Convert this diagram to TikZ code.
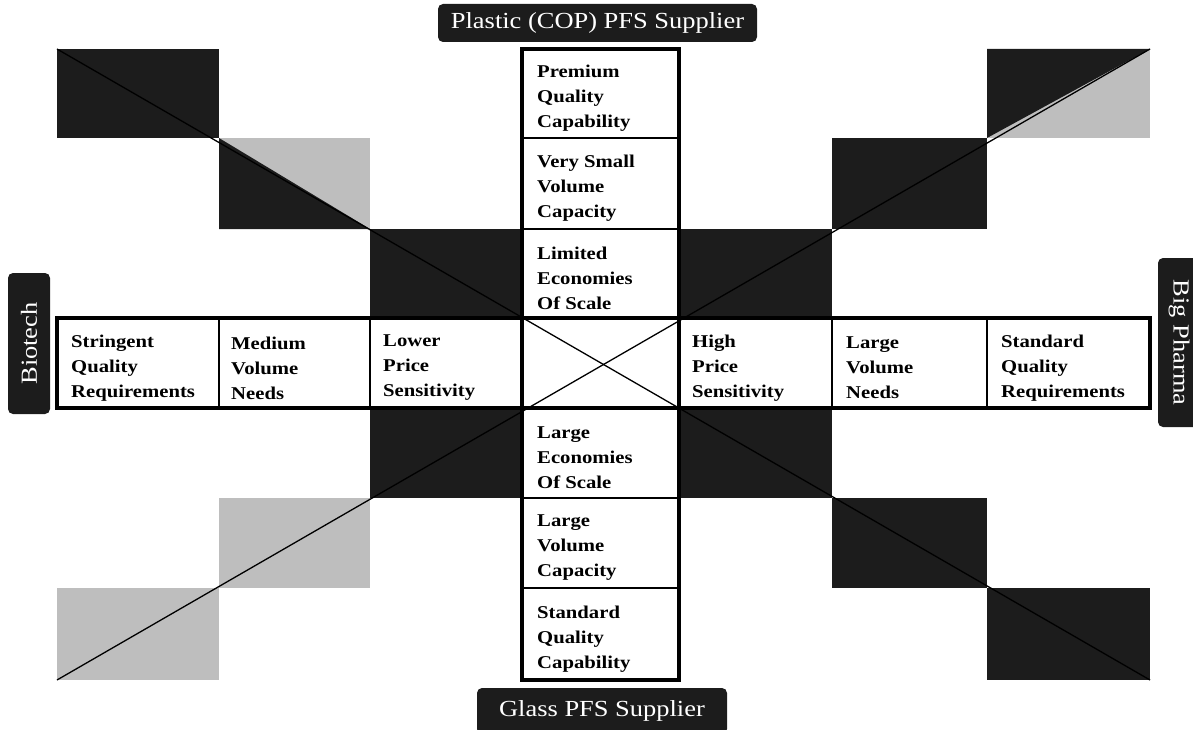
\documentclass[tikz,border=0pt]{standalone}
\usepackage{fontspec}
\setmainfont{Liberation Serif}[FakeStretch=1.15]
\definecolor{ink}{HTML}{1C1C1C}
\definecolor{greyfill}{HTML}{BEBEBE}
\begin{document}
\begin{tikzpicture}[x=1pt,y=-1pt,
  cell/.style={anchor=west, align=left, inner sep=0pt,
    font=\bfseries\fontsize{18}{25}\selectfont},
  tag/.style={fill=ink, text=white, rounded corners=5pt, inner sep=0pt,
    font=\fontsize{23}{26}\selectfont},
  divider/.style={line width=1.4pt},
  frame/.style={line width=3.2pt, line join=miter},
  diag/.style={line width=1.3pt}]
\useasboundingbox (0,0) rectangle (1193,730);

% shaded squares along the two diagonals
\fill[ink] (57,49) rectangle (219,138);
\fill[greyfill] (219,138) rectangle (370,229);
\fill[ink] (219,138) -- (219,229) -- (370,229) -- cycle;
\fill[ink] (370,229) rectangle (522,318);
\fill[ink] (679,229) rectangle (832,318);
\fill[ink] (832,138) rectangle (987,229);
\fill[greyfill] (987,49) rectangle (1150,138);
\fill[ink] (987,49) -- (1150,49) -- (987,138) -- cycle;
\fill[ink] (370,408) rectangle (522,498);
\fill[greyfill] (219,498) rectangle (370,588);
\fill[greyfill] (57,588) rectangle (219,680);
\fill[ink] (679,408) rectangle (832,498);
\fill[ink] (832,498) rectangle (987,588);
\fill[ink] (987,588) rectangle (1150,680);

% white cross of cells
\fill[white] (57,318) rectangle (1150,408);
\fill[white] (522,49) rectangle (679,680);

% corner points of the two long diagonals
\coordinate (nw) at (57,49);
\coordinate (se) at (1150,680);
\coordinate (sw) at (57,680);
\coordinate (ne) at (1150,49);
\draw[diag] (nw) -- (se);
\draw[diag] (sw) -- (ne);

% cell dividers
\draw[divider] (219,318) -- (219,408) (370,318) -- (370,408)
               (832,318) -- (832,408) (987,318) -- (987,408);
\draw[divider] (522,138) -- (679,138) (522,229) -- (679,229)
               (522,498) -- (679,498) (522,588) -- (679,588);

% outline of the cross and its centre cell
\draw[frame] (57,318) -- (522,318) -- (522,49) -- (679,49) -- (679,318)
  -- (1150,318) -- (1150,408) -- (679,408) -- (679,680) -- (522,680)
  -- (522,408) -- (57,408) -- cycle;
\draw[frame] (522,318) rectangle (679,408);

% row cells
\node[cell] (stringent) at (71,368) {Stringent\\Quality\\Requirements};
\node[cell] (medium) at (231,368) {Medium\\Volume\\Needs};
\node[cell] (lower) at (383,368) {Lower\\Price\\Sensitivity};
\node[cell] (high) at (692,368) {High\\Price\\Sensitivity};
\node[cell] (large) at (846,368) {Large\\Volume\\Needs};
\node[cell] (standard) at (1001,368) {Standard\\Quality\\Requirements};

% column cells
\node[cell] (premium) at (537,98) {Premium\\Quality\\Capability};
\node[cell] (small) at (537,188) {Very Small\\Volume\\Capacity};
\node[cell] (limited) at (537,278) {Limited\\Economies\\Of Scale};
\node[cell] (largeeco) at (537,458) {Large\\Economies\\Of Scale};
\node[cell] (largecap) at (537,548) {Large\\Volume\\Capacity};
\node[cell] (stdcap) at (537,639) {Standard\\Quality\\Capability};

% the four end tags
\node[tag, minimum width=319pt, minimum height=38pt] (plastic) at (597.5,23) {Plastic (COP) PFS Supplier};
\node[tag, minimum width=250pt, minimum height=46pt] (glass) at (602,711) {Glass PFS Supplier};
\node[tag, rotate=90, minimum width=141pt, minimum height=42pt] (biotech) at (29,343.5) {Biotech};
\node[tag, rotate=-90, minimum width=169pt, minimum height=42pt] (pharma) at (1179,342.5) {Big Pharma};
\end{tikzpicture}
\end{document}
